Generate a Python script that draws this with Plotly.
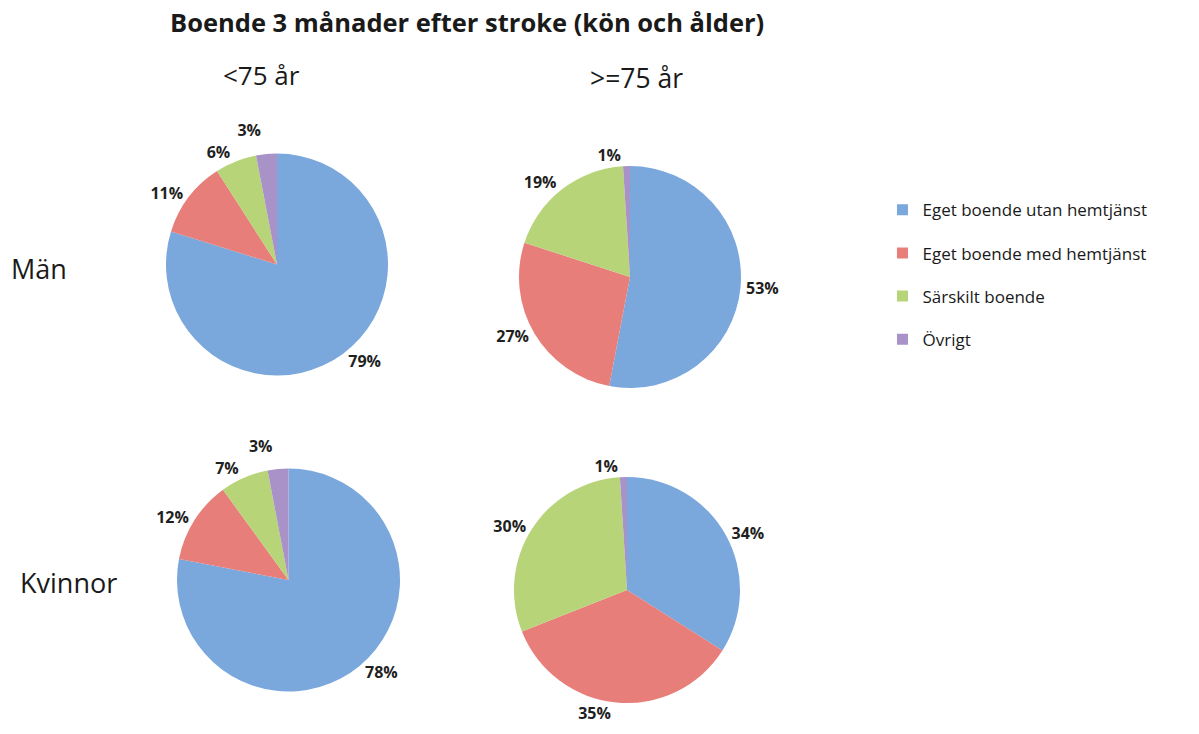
import plotly.graph_objects as go

# kategorier och andelar (%)
kategorier = ['Eget boende utan hemtjänst', 'Eget boende med hemtjänst', 'Särskilt boende', 'Övrigt']
farger = ['#7aa7dc', '#e87e7a', '#b7d479', '#a892c7']

man_under75 = [79, 11, 6, 3]
man_over75 = [53, 27, 19, 1]
kvinnor_under75 = [78, 12, 7, 3]
kvinnor_over75 = [34, 35, 30, 1]

W, H = 1199, 734


def dom(x0, x1, y0, y1):
    # pixelrutor -> paper-koordinater
    return dict(x=[x0 / W, x1 / W], y=[1 - y1 / H, 1 - y0 / H])


def px(x, y):
    return dict(x=x / W, y=1 - y / H, xref='paper', yref='paper',
                xanchor='center', yanchor='middle', showarrow=False)


pajer = [
    (man_under75, dom(166, 388, 153, 376)),
    (man_over75, dom(519, 741, 166, 388)),
    (kvinnor_under75, dom(177, 400, 468, 692)),
    (kvinnor_over75, dom(514, 740, 477, 703)),
]

fig = go.Figure()
for varden, d in pajer:
    fig.add_trace(go.Pie(
        labels=kategorier, values=varden, domain=d,
        sort=False, direction='clockwise', rotation=0,
        marker=dict(colors=farger, line=dict(width=0)),
        text=[f'<b>{v}%</b>' for v in varden], textinfo='text',
        textposition='outside', textfont=dict(size=16, color='#1f1f1f'),
        showlegend=False, hoverinfo='label+text',
    ))

# legend med fyrkantiga markörer
for kat, f in zip(kategorier, farger):
    fig.add_trace(go.Scatter(
        x=[None], y=[None], mode='markers', name=kat, legendgroup=kat,
        marker=dict(symbol='square', size=11, color=f),
    ))

fig.update_layout(
    width=W, height=H, margin=dict(l=0, r=0, t=0, b=0),
    paper_bgcolor='white', plot_bgcolor='white',
    font=dict(family='Open Sans, sans-serif', color='#1a1a1a'),
    xaxis=dict(visible=False), yaxis=dict(visible=False),
    legend=dict(x=0.736, y=0.738, xanchor='left', yanchor='top',
                font=dict(size=17), tracegroupgap=18, itemwidth=30),
    annotations=[
        dict(text='<b>Boende 3 månader efter stroke (kön och ålder)</b>',
             font=dict(size=25.5), **px(467, 22)),
        dict(text='&lt;75 år', font=dict(size=26), **px(261, 75)),
        dict(text='&gt;=75 år', font=dict(size=26.5), **px(636, 78)),
        dict(text='Män', font=dict(size=27), **px(39, 268)),
        dict(text='Kvinnor', font=dict(size=27), **px(68, 582)),
    ],
)

# ingen body-marginal, inga ledarlinjer vid etiketterna
js = ("document.body.style.margin='0';"
      "var s=document.createElement('style');"
      "s.innerHTML='.textline{display:none}';document.head.appendChild(s);")
fig.write_html('out.html', post_script=js, config={'displayModeBar': False})
